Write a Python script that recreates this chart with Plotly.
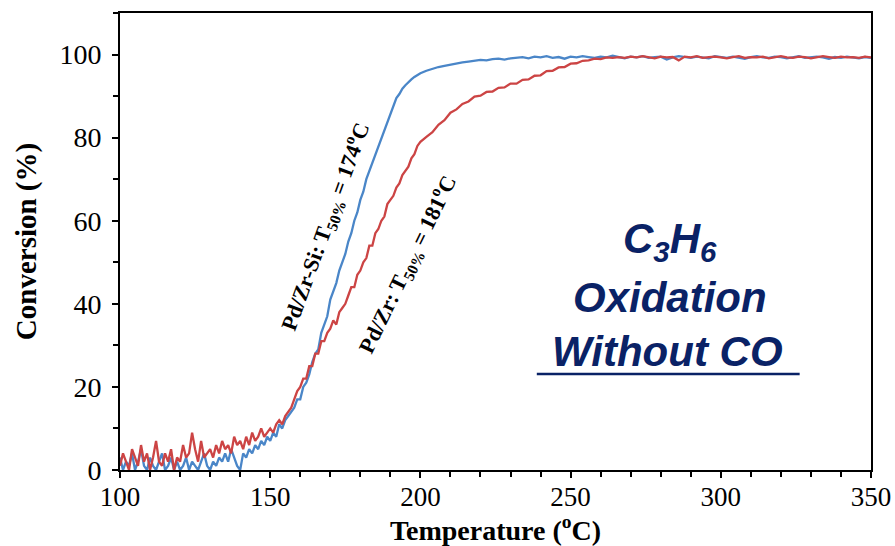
import plotly.graph_objects as go

# Temperature grid (°C): 1 °C steps through light-off, 2 °C steps afterwards
temperature = list(range(100, 201)) + list(range(202, 351, 2))

# C3H6 conversion (%) for Pd/Zr-Si
conv_pdzrsi = (
    [3, 0, 2, 1, 4, 0, 2, 5, 1, 0, 3, 1, 0, 2, 4, 0, 1, 3, 0, 2,
     0, 1, 3, 0, 2, 1, 0, 2, 4, 1, 0, 2, 1, 3, 2, 4, 2, 5, 3, 1]
    + [0, 4, 3, 5, 4, 6, 5, 7, 6, 8]
    + [7, 9, 8, 11, 10, 12, 13, 14, 15, 17]
    + [17, 20, 21, 23, 26, 28, 29, 33, 35, 37]
    + [41, 43, 45, 48, 50, 52, 55, 57, 60, 62]
    + [65, 67, 70, 72, 74, 76, 78, 80, 82, 84]
    + [86, 88, 89.5, 90.5, 91.8, 92.6, 93.4, 94, 94.6, 95.1]
    + [95.5]
    + [96.1, 96.6, 97.0, 97.3, 97.6, 97.9, 98.1, 98.3, 98.5, 98.7,
       98.6, 98.9, 99.0, 98.8, 99.1]
    + [99.2, 99.4, 99.1, 99.5, 99.3, 99.6, 99.2, 99.4, 99.0, 99.5,
       99.3, 99.6, 99.4, 99.2, 99.5, 99.3, 99.7, 99.4, 99.1, 99.5,
       99.3, 99.6, 99.2, 99.4, 99.5, 98.8, 99.3, 99.6, 99.4, 99.2,
       99.5, 99.3, 99.1, 99.6, 99.4, 99.2, 99.5, 99.3, 99.0, 99.4,
       99.6, 99.3, 99.2, 99.5, 99.4, 99.1, 99.3, 99.6, 99.2, 99.4,
       99.5, 99.3, 99.0, 99.4, 99.2, 99.5, 99.3, 99.1, 99.4, 99.2]
)

# C3H6 conversion (%) for Pd/Zr
conv_pdzr = (
    [1, 4, 2, 0, 5, 3, 1, 6, 2, 4, 0, 3, 7, 2, 1, 4, 2, 5, 0, 3,
     2, 6, 3, 4, 9, 5, 2, 7, 3, 4, 5, 3, 6, 4, 7, 5, 6, 4, 8, 6]
    + [7, 5, 8, 6, 9, 7, 8, 10, 8, 9]
    + [10, 9, 11, 12, 11, 13, 14, 15, 17, 19]
    + [20, 22, 22, 25, 25, 28, 28, 31, 31, 33]
    + [34, 36, 35, 38, 39, 40, 42, 44, 44, 47]
    + [48, 50, 51, 54, 54, 57, 58, 60, 61, 64]
    + [65, 66, 68, 69, 71, 72, 73, 75, 76, 78]
    + [79]
    + [80.2, 81.3, 83.1, 84.2, 86.0, 86.8, 88.1, 88.7, 89.9, 90.1,
       91.0, 91.1, 92.0, 92.1, 93.0, 93.0, 93.9, 94.0, 94.9, 95.0,
       96.0, 96.1, 96.9, 97.0, 97.8, 97.9, 98.5, 98.6, 99.0, 98.9,
       99.3, 99.2]
    + [99.4, 99.2, 99.5, 99.3, 99.6, 99.4, 99.1, 99.5, 99.3, 99.4,
       98.6, 99.5, 99.3, 99.6, 99.2, 99.4, 99.5, 99.3, 99.1, 99.4,
       99.6, 99.2, 99.4, 99.3, 99.5, 99.1, 99.4, 99.6, 99.3, 99.2,
       99.5, 99.4, 99.1, 99.3, 99.6, 99.4, 99.2, 99.5, 99.3, 99.4,
       99.2, 99.5, 99.3]
)

x_ticks = [100, 150, 200, 250, 300, 350]
y_ticks = [0, 20, 40, 60, 80, 100]

SERIF = "Liberation Serif, Times New Roman, serif"
NAVY = "#0a2266"

fig = go.Figure()
fig.add_trace(go.Scatter(x=temperature, y=conv_pdzrsi, mode="lines",
                         line=dict(color="#4a86c8", width=2.3),
                         name="Pd/Zr-Si", showlegend=False))
fig.add_trace(go.Scatter(x=temperature, y=conv_pdzr, mode="lines",
                         line=dict(color="#cc4444", width=2.3),
                         name="Pd/Zr", showlegend=False))

# Rotated T50 labels beside each curve
fig.add_annotation(x=168.3, y=58.5, xref="x", yref="y", showarrow=False,
                   text="<b>Pd/Zr-Si: T<sub>50%</sub> = 174<sup>o</sup>C</b>",
                   textangle=-70, font=dict(family=SERIF, size=22, color="black"))
fig.add_annotation(x=195.5, y=49.5, xref="x", yref="y", showarrow=False,
                   text="<b>Pd/Zr: T<sub>50%</sub> = 181<sup>o</sup>C</b>",
                   textangle=-64, font=dict(family=SERIF, size=22, color="black"))

# Reaction condition caption
caption_font = dict(family="Liberation Sans, Arial, sans-serif", size=42, color=NAVY)
caption_lines = [
    ("<b><i>C<sub>3</sub>H<sub>6</sub></i></b>", 0.732, 0.500),
    ("<b><i>Oxidation</i></b>", 0.732, 0.377),
    ("<b><i>Without CO</i></b>", 0.729, 0.259),
]
for text, cx, cy in caption_lines:
    fig.add_annotation(x=cx, y=cy, xref="paper", yref="paper", showarrow=False,
                       xanchor="center", yanchor="middle", text=text, font=caption_font)
# underline beneath "Without CO"
fig.add_shape(type="line", xref="paper", yref="paper",
              x0=0.555, x1=0.905, y0=0.210, y1=0.210,
              line=dict(color=NAVY, width=2.5))

axis_common = dict(
    showline=True, linecolor="black", linewidth=2, mirror=True,
    ticks="outside", ticklen=6, tickwidth=2, tickcolor="black",
    showgrid=False, zeroline=False, automargin=False,
)

fig.update_xaxes(range=[100, 350], tickvals=x_ticks,
                 tickfont=dict(family=SERIF, size=27, color="black"),
                 ticklabelstandoff=-4,
                 minor=dict(dtick=10, ticks="outside", ticklen=5, tickwidth=2,
                            tickcolor="black", showgrid=False),
                 title=dict(text="<b>Temperature (<sup>o</sup>C)</b>",
                            font=dict(family=SERIF, size=28, color="black"),
                            standoff=8),
                 **axis_common)
fig.update_yaxes(range=[0, 110], tickvals=y_ticks,
                 tickfont=dict(family=SERIF, size=28, color="black"),
                 ticklabelstandoff=5,
                 minor=dict(dtick=10, ticks="outside", ticklen=5, tickwidth=2,
                            tickcolor="black", showgrid=False),
                 title=dict(text="<b>Conversion (%)</b>",
                            font=dict(family=SERIF, size=29, color="black"),
                            standoff=14),
                 **axis_common)

fig.update_layout(
    width=895, height=546,
    margin=dict(l=120, r=24, t=13, b=76),
    paper_bgcolor="white", plot_bgcolor="white",
)

fig.write_html("out.html")
